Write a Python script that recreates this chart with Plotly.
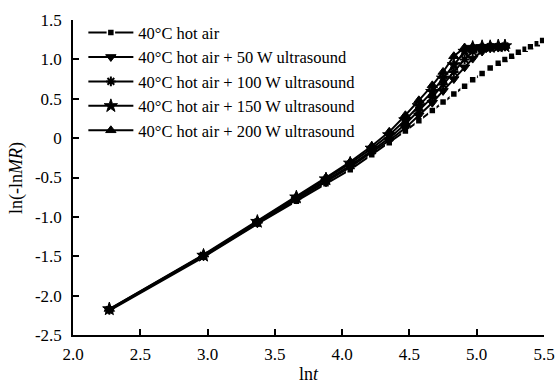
import plotly.graph_objects as go

# ---- data ----
x_hot = [2.27, 2.97, 3.37, 3.66, 3.88, 4.06, 4.22, 4.35, 4.47, 4.57, 4.67, 4.75, 4.83,
         4.91, 4.97, 5.04, 5.10, 5.16, 5.21, 5.26, 5.31, 5.36, 5.40, 5.45, 5.49]
y_hot = [-2.19, -1.51, -1.09, -0.80, -0.58, -0.40, -0.21, -0.06, 0.09, 0.22, 0.35, 0.46, 0.56,
         0.66, 0.74, 0.82, 0.89, 0.95, 1.00, 1.04, 1.09, 1.13, 1.16, 1.20, 1.24]

x_us = [2.27, 2.97, 3.37, 3.66, 3.88, 4.06, 4.22, 4.35, 4.47, 4.57, 4.67, 4.75, 4.83,
        4.91, 4.97, 5.04, 5.10, 5.16, 5.21]
y_50 = [-2.18, -1.50, -1.08, -0.78, -0.56, -0.37, -0.18, -0.03, 0.13, 0.29, 0.45, 0.60, 0.75,
        0.90, 1.01, 1.10, 1.14, 1.15, 1.16]
y_100 = [-2.18, -1.49, -1.07, -0.77, -0.54, -0.35, -0.16, 0.00, 0.18, 0.35, 0.52, 0.68, 0.84,
         1.00, 1.10, 1.15, 1.16, 1.16, 1.17]
y_150 = [-2.17, -1.49, -1.06, -0.75, -0.52, -0.32, -0.13, 0.04, 0.23, 0.41, 0.59, 0.76, 0.93,
         1.10, 1.15, 1.16, 1.16, 1.17, 1.17]
y_200 = [-2.17, -1.48, -1.05, -0.74, -0.50, -0.30, -0.10, 0.08, 0.29, 0.48, 0.67, 0.84, 1.04,
         1.15, 1.16, 1.16, 1.17, 1.17, 1.17]

names = ["40°C hot air", "40°C hot air + 50 W ultrasound",
         "40°C hot air + 100 W ultrasound",
         "40°C hot air + 150 W ultrasound",
         "40°C hot air + 200 W ultrasound"]

x_ticks = [2.0, 2.5, 3.0, 3.5, 4.0, 4.5, 5.0, 5.5]
x_tick_text = ["2.0", "2.5", "3.0", "3.5", "4.0", "4.5", "5.0", "5.5"]
y_ticks = [1.5, 1.0, 0.5, 0, -0.5, -1.0, -1.5, -2.0, -2.5]
y_tick_text = ["1.5", "1.0", "0.5", "0", "-0.5", "-1.0", "-1.5", "-2.0", "-2.5"]

FONT = "Liberation Serif, Times New Roman, serif"

styles = [
    dict(symbol="square", size=7, color="black", line=dict(color="white", width=1.5)),
    dict(symbol="triangle-down", size=9, color="black", line=dict(color="black", width=1)),
    dict(symbol="asterisk-open", size=8, color="black", line=dict(color="black", width=2)),
    dict(symbol="star", size=10, color="black", line=dict(color="black", width=1)),
    dict(symbol="triangle-up", size=9, color="black", line=dict(color="black", width=1)),
]
data = [(x_hot, y_hot), (x_us, y_50), (x_us, y_100), (x_us, y_150), (x_us, y_200)]

fig = go.Figure()
for (xs, ys), nm, mk in zip(data, names, styles):
    fig.add_trace(go.Scatter(
        x=xs, y=ys, name=nm, mode="lines+markers",
        line=dict(color="black", width=2), marker=mk,
    ))

axis_common = dict(showline=True, linecolor="black", linewidth=1.5,
                   ticks="inside", ticklen=6, tickcolor="black", tickwidth=1.5,
                   showgrid=False, zeroline=False, mirror=False, automargin=False,
                   tickfont=dict(family=FONT, size=17, color="black"))

fig.update_layout(
    template="none",
    width=555, height=383,
    margin=dict(l=73, r=11, t=20, b=48),
    paper_bgcolor="white", plot_bgcolor="white",
    font=dict(family=FONT, size=17, color="black"),
    showlegend=True,
    legend=dict(x=0.022, y=1.015, xanchor="left", yanchor="top",
                bgcolor="rgba(0,0,0,0)", borderwidth=0, itemwidth=45,
                font=dict(family=FONT, size=16.5, color="black"),
                itemsizing="trace", tracegroupgap=0),
    xaxis=dict(range=[2.0, 5.5], tickvals=x_ticks, ticktext=x_tick_text,
               ticklabelstandoff=3, **axis_common),
    yaxis=dict(range=[-2.5, 1.5], tickvals=y_ticks, ticktext=y_tick_text,
               ticklabelstandoff=6, **axis_common),
    annotations=[
        dict(text="ln<i>t</i>", xref="paper", yref="paper", x=0.5, y=-0.125,
             xanchor="center", yanchor="middle", showarrow=False,
             font=dict(family=FONT, size=18, color="black")),
        dict(text="ln(-ln<i>MR</i>)", xref="paper", yref="paper", x=-0.12, y=0.5,
             xanchor="center", yanchor="middle", showarrow=False, textangle=-90,
             font=dict(family=FONT, size=18, color="black")),
    ],
)

fig.write_html("out.html", config={"displayModeBar": False},
               post_script="document.body.style.margin='0px';document.body.style.overflow='hidden';")
